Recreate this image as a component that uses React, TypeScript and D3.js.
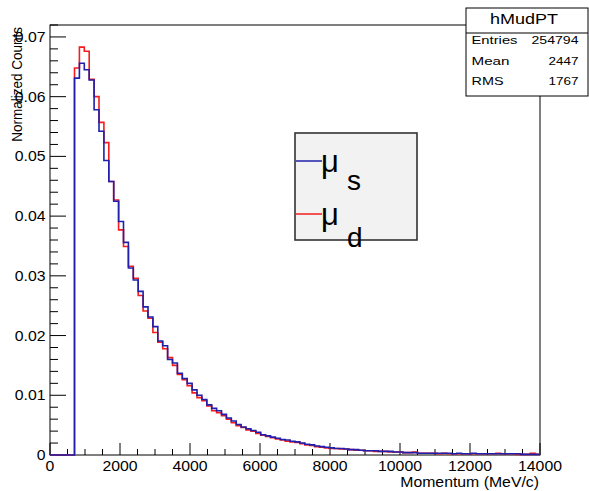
import React from "react";
import * as d3 from "d3";

// 100 bins over 0..14000 MeV/c
const xDomain = [0, 14000];
const binCount = 100;
const yDomain = [0, 0.072];

const muS = [
  0, 0, 0, 0, 0,
  0.0631, 0.0656, 0.0645, 0.0628, 0.0578,
  0.0542, 0.0493, 0.0458, 0.0425, 0.0391,
  0.0356, 0.0313, 0.0293, 0.0274, 0.0248,
  0.0231, 0.0215, 0.0191, 0.0183, 0.0160,
  0.0154, 0.0137, 0.0128, 0.0120, 0.0109,
  0.0100, 0.0093, 0.0084, 0.0078, 0.0074,
  0.0068, 0.0062, 0.0057, 0.0051, 0.0047,
  0.0044, 0.0041, 0.0038, 0.0034, 0.0032,
  0.0030, 0.0028, 0.0026, 0.0025, 0.0023,
  0.0022, 0.0020, 0.0018, 0.0017, 0.0015,
  0.0014, 0.0013, 0.0012, 0.0011, 0.0011,
  0.0010, 0.0009, 0.0009, 0.0008, 0.0007,
  0.0007, 0.0007, 0.0006, 0.0006, 0.0006,
  0.0005, 0.0005, 0.0004, 0.0004, 0.0004,
  0.0003, 0.0003, 0.0003, 0.0003, 0.0003,
  0.0003, 0.0003, 0.0002, 0.0003, 0.0002,
  0.0002, 0.0003, 0.0002, 0.0002, 0.0002,
  0.0002, 0.0002, 0.0002, 0.0002, 0.0002,
  0.0002, 0.0001, 0.0001, 0.0001, 0.0001,
];

const muD = [
  0, 0, 0, 0, 0,
  0.0648, 0.0683, 0.0676, 0.0629, 0.0600,
  0.0557, 0.0523, 0.0458, 0.0427, 0.0377,
  0.0349, 0.0316, 0.0296, 0.0267, 0.0241,
  0.0229, 0.0205, 0.0189, 0.0178, 0.0163,
  0.0150, 0.0135, 0.0126, 0.0116, 0.0104,
  0.0096, 0.0091, 0.0082, 0.0074, 0.0071,
  0.0066, 0.0060, 0.0054, 0.0049, 0.0046,
  0.0042, 0.0040, 0.0036, 0.0033, 0.0031,
  0.0029, 0.0027, 0.0025, 0.0023, 0.0022,
  0.0021, 0.0019, 0.0017, 0.0016, 0.0014,
  0.0013, 0.0012, 0.0011, 0.0011, 0.0010,
  0.0010, 0.0009, 0.0008, 0.0008, 0.0007,
  0.0007, 0.0006, 0.0006, 0.0006, 0.0005,
  0.0005, 0.0005, 0.0004, 0.0004, 0.0005,
  0.0003, 0.0003, 0.0003, 0.0003, 0.0002,
  0.0003, 0.0002, 0.0002, 0.0002, 0.0002,
  0.0002, 0.0002, 0.0002, 0.0002, 0.0002,
  0.0002, 0.0003, 0.0002, 0.0002, 0.0002,
  0.0001, 0.0001, 0.0001, 0.0003, 0.0001,
];

const xTicks = [0, 2000, 4000, 6000, 8000, 10000, 12000, 14000];
const yTicks = [0, 0.01, 0.02, 0.03, 0.04, 0.05, 0.06, 0.07];
const yTickLabels = ["0", "0.01", "0.02", "0.03", "0.04", "0.05", "0.06", "0.07"];

const statsTitle = "hMudPT";
const statsRows = [
  ["Entries", "254794"],
  ["Mean", "2447"],
  ["RMS", "1767"],
];

const FONT = "'Liberation Sans', Arial, Helvetica, sans-serif";
const SX = 1.13; // horizontal stretch of the reference's text

function SText({ x, y, anchor = "start", size = 14, children, fill = "#000" }: any) {
  return (
    <g transform={`translate(${x},${y}) scale(${SX},1)`}>
      <text x={0} y={0} fontSize={size} textAnchor={anchor} fill={fill}>{children}</text>
    </g>
  );
}

export default function App() {
  const W = 589, H = 491;
  const left = 50, right = 540, top = 25, bottom = 455;
  const x = d3.scaleLinear().domain(xDomain).range([left, right]);
  const y = d3.scaleLinear().domain(yDomain).range([bottom, top]);
  const binW = (xDomain[1] - xDomain[0]) / binCount;

  const histPath = (vals: number[]) => {
    const pts: [number, number][] = [[x(xDomain[0]), y(0)]];
    vals.forEach((v, i) => {
      const lo = xDomain[0] + i * binW;
      const hi = lo + binW;
      pts.push([x(lo), y(v)]);
      pts.push([x(hi), y(v)]);
    });
    return d3.line()(pts) || "";
  };

  const xMinor = d3.range(0, 14001, 500);
  const yMinor = d3.range(0, 0.0721, 0.002);

  return (
    <svg width={W} height={H} style={{ position: "absolute", left: 0, top: 0 }} fontFamily={FONT}>
      <rect x={0} y={0} width={W} height={H} fill="#fff" />
      {/* frame */}
      <rect x={left} y={top} width={right - left} height={bottom - top} fill="none" stroke="#000" strokeWidth={1} />
      {/* x ticks */}
      {xMinor.map((t, i) => (
        <line key={"xm" + i} x1={x(t)} x2={x(t)} y1={bottom} y2={bottom - (t % 2000 === 0 ? 12 : 6)} stroke="#000" strokeWidth={1} />
      ))}
      {xTicks.map((t, i) => (
        <SText key={"xl" + i} x={x(t)} y={471} anchor="middle">{t}</SText>
      ))}
      {/* y ticks */}
      {yMinor.map((t, i) => (
        <line key={"ym" + i} x1={left} x2={left + (i % 5 === 0 ? 16 : 8)} y1={y(t)} y2={y(t)} stroke="#000" strokeWidth={1} />
      ))}
      {yTicks.map((t, i) => (
        <SText key={"yl" + i} x={45.5} y={y(t) + 5} anchor="end">{yTickLabels[i]}</SText>
      ))}
      {/* axis titles */}
      <SText x={539} y={487} anchor="end">Momentum (MeV/c)</SText>
      <g transform={`translate(21.5,27) scale(${SX},1) rotate(-90)`}>
        <text x={0} y={0} fontSize={13.5} textAnchor="end" fill="#000">Normalized Counts</text>
      </g>
      {/* histograms */}
      <path d={histPath(muD)} fill="none" stroke="#f41c1c" strokeWidth={1.6} />
      <path d={histPath(muS)} fill="none" stroke="#2020ac" strokeWidth={1.6} />
      {/* legend */}
      <rect x={295} y={133} width={122} height={107} fill="#f2f2f2" stroke="#333" strokeWidth={1.6} />
      <line x1={296} x2={322} y1={161} y2={161} stroke="#2020ac" strokeWidth={1.5} />
      <text x={321} y={172} fontSize={31} fill="#000">μ</text>
      <text x={347} y={190} fontSize={28} fill="#000">s</text>
      <line x1={296} x2={322} y1={214} y2={214} stroke="#f41c1c" strokeWidth={1.5} />
      <text x={321} y={225} fontSize={31} fill="#000">μ</text>
      <text x={347} y={247} fontSize={28} fill="#000">d</text>
      {/* stats box */}
      <rect x={466} y={8} width={122} height={88} fill="#fff" stroke="#000" strokeWidth={1} />
      <line x1={466} x2={588} y1={33} y2={33} stroke="#000" strokeWidth={1} />
      <text x={490} y={24} fontSize={14} textLength={68} lengthAdjust="spacingAndGlyphs" fill="#000">{statsTitle}</text>
      {statsRows.map((r, i) => {
        const labelLen = [46, 38, 32][i];
        const valLen = [47, 30, 30][i];
        return (
          <g key={"s" + i}>
            <text x={471.5} y={44.3 + i * 20.4} fontSize={11.8} textLength={labelLen} lengthAdjust="spacingAndGlyphs" fill="#000">{r[0]}</text>
            <text x={578.5 - valLen} y={44.3 + i * 20.4} fontSize={11.8} textLength={valLen} lengthAdjust="spacingAndGlyphs" fill="#000">{r[1]}</text>
          </g>
        );
      })}
    </svg>
  );
}
